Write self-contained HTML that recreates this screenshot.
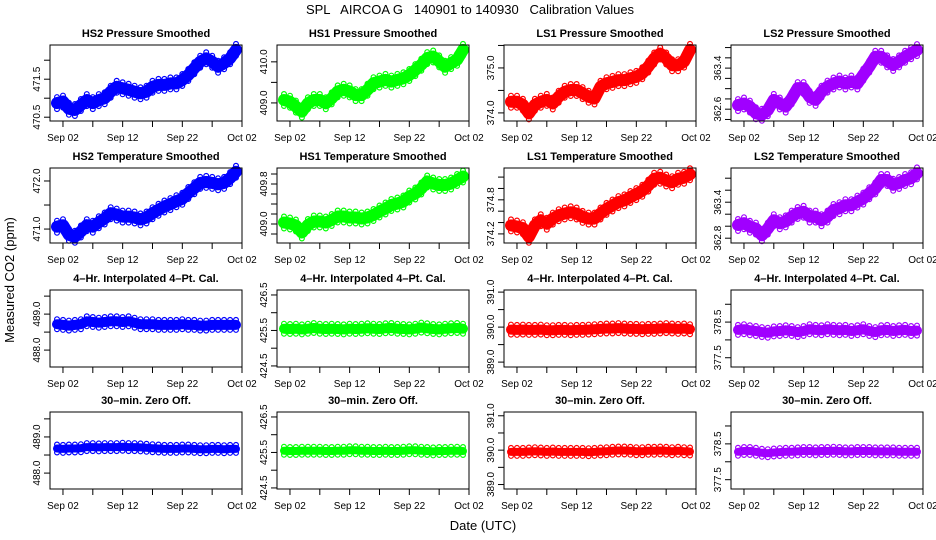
<!DOCTYPE html>
<html><head><meta charset="utf-8">
<style>
html,body{margin:0;padding:0;background:#fff;}
svg{display:block;font-family:"Liberation Sans",Arial,sans-serif;}
</style></head>
<body>
<svg id="chart" width="936" height="540" viewBox="0 0 936 540" xmlns="http://www.w3.org/2000/svg">
<text x="470" y="14" text-anchor="middle" font-size="13" xml:space="preserve">SPL   AIRCOA G   140901 to 140930   Calibration Values</text>
<text x="483" y="530" text-anchor="middle" font-size="13">Date (UTC)</text>
<text transform="translate(14,280) rotate(-90)" text-anchor="middle" font-size="13">Measured CO2 (ppm)</text>
<g id="panels"></g>
</svg>
<script>
// Days since Sep 1 (00:00 UTC) for each daily sample
const days = [0,1,2,3,4,5,6,7,8,9,10,11,12,13,14,15,16,17,18,19,20,21,22,23,24,25,26,27,28,29,30];
const xTickDays = [1,6,11,16,21,26,31];
const xTickLabels = {1:"Sep 02",11:"Sep 12",21:"Sep 22",31:"Oct 02"};

const hs2Pressure = [470.87,470.91,470.72,470.69,470.82,470.95,470.87,470.95,471.0,471.17,471.3,471.26,471.22,471.17,471.13,471.17,471.3,471.35,471.35,471.39,471.39,471.48,471.61,471.79,471.96,472.05,471.96,471.83,471.92,472.05,472.27];
const hs1Pressure = [409.07,409.03,408.91,408.79,408.99,409.07,409.07,408.99,409.11,409.28,409.32,409.28,409.19,409.19,409.32,409.48,409.52,409.56,409.52,409.56,409.6,409.68,409.8,409.93,410.09,410.13,410.01,409.88,409.97,410.05,410.29];
const ls1Pressure = [374.25,374.25,374.18,373.99,374.18,374.25,374.29,374.21,374.36,374.47,374.51,374.51,374.44,374.36,374.32,374.58,374.66,374.69,374.73,374.73,374.77,374.8,374.88,375.03,375.21,375.32,375.21,375.06,375.06,375.14,375.4];
const ls2Pressure = [362.68,362.71,362.65,362.52,362.49,362.58,362.78,362.71,362.65,362.81,363.01,363.01,362.84,362.78,362.94,363.04,363.1,363.14,363.1,363.14,363.1,363.27,363.43,363.62,363.62,363.53,363.46,363.53,363.62,363.69,363.75];

const hs2Temp = [471.05,471.08,470.88,470.84,470.95,471.08,471.05,471.14,471.22,471.33,471.3,471.26,471.26,471.24,471.2,471.24,471.33,471.4,471.47,471.52,471.58,471.63,471.75,471.85,471.96,471.98,471.96,471.93,471.96,472.06,472.19];
const hs1Temp = [409.03,409.01,408.97,408.83,408.98,409.05,409.05,409.03,409.08,409.15,409.15,409.13,409.13,409.11,409.13,409.18,409.25,409.31,409.38,409.41,409.45,409.55,409.61,409.71,409.85,409.81,409.78,409.78,409.81,409.88,409.95];
const ls1Temp = [374.35,374.33,374.3,374.15,374.35,374.44,374.38,374.47,374.53,374.56,374.58,374.56,374.5,374.47,374.47,374.56,374.64,374.7,374.76,374.79,374.85,374.9,374.96,375.05,375.17,375.19,375.14,375.11,375.17,375.19,375.25];
const ls2Temp = [363.02,363.05,362.99,362.96,362.85,362.96,363.1,363.05,363.08,363.16,363.22,363.24,363.16,363.16,363.1,363.16,363.27,363.3,363.35,363.35,363.41,363.46,363.55,363.63,363.77,363.77,363.69,363.72,363.77,363.8,363.88];

const hs2Interp = [488.72,488.7,488.68,488.7,488.72,488.8,488.78,488.76,488.78,488.8,488.8,488.78,488.8,488.76,488.72,488.72,488.72,488.7,488.7,488.7,488.7,488.72,488.7,488.7,488.68,488.68,488.7,488.7,488.7,488.7,488.7];
const hs1Interp = [425.55,425.54,425.55,425.53,425.55,425.57,425.55,425.54,425.55,425.54,425.53,425.55,425.54,425.55,425.56,425.55,425.54,425.56,425.57,425.55,425.54,425.53,425.55,425.58,425.56,425.54,425.53,425.55,425.56,425.57,425.55];
const ls1Interp = [389.93,389.92,389.93,389.92,389.92,389.93,389.91,389.91,389.92,389.92,389.91,389.92,389.92,389.93,389.94,389.95,389.96,389.96,389.97,389.96,389.95,389.95,389.94,389.95,389.95,389.96,389.97,389.96,389.95,389.96,389.94];
const ls2Interp = [378.28,378.3,378.27,378.25,378.22,378.2,378.24,378.25,378.27,378.25,378.22,378.25,378.3,378.28,378.27,378.3,378.28,378.27,378.28,378.25,378.27,378.3,378.25,378.22,378.27,378.28,378.25,378.27,378.28,378.25,378.26];

const hs2Zero = [488.68,488.67,488.68,488.68,488.69,488.72,488.72,488.71,488.72,488.72,488.72,488.73,488.72,488.72,488.71,488.7,488.69,488.68,488.67,488.67,488.67,488.68,488.68,488.67,488.66,488.66,488.67,488.67,488.66,488.67,488.67];
const hs1Zero = [425.55,425.54,425.54,425.55,425.55,425.55,425.55,425.54,425.54,425.55,425.55,425.56,425.56,425.55,425.55,425.54,425.54,425.55,425.54,425.54,425.55,425.56,425.56,425.55,425.54,425.53,425.54,425.54,425.55,425.55,425.54];
const ls1Zero = [389.95,389.95,389.95,389.96,389.97,389.96,389.95,389.96,389.95,389.95,389.95,389.95,389.95,389.94,389.95,389.96,389.97,389.98,389.99,389.99,389.98,389.97,389.97,389.98,389.98,389.99,389.98,389.97,389.98,389.97,389.96];
const ls2Zero = [378.28,378.3,378.3,378.28,378.25,378.24,378.26,378.27,378.28,378.28,378.29,378.3,378.3,378.29,378.3,378.3,378.31,378.3,378.29,378.29,378.3,378.3,378.3,378.29,378.29,378.29,378.29,378.28,378.28,378.28,378.28];

const colLeft = [50,277,504,731];
const rowTop = [45,168,290,412];
const rowBot = [121,243,367,489];
const boxW = 192;
const colors = ["#0000ff","#00ff00","#ff0000","#a000ff"];

const panels = [
 {r:0,c:0,t:"HS2 Pressure Smoothed",data:hs2Pressure,y0:470.4,y1:472.4,ticks:[470.5,471.0,471.5,472.0],labs:["470.5","471.5"],band:12},
 {r:0,c:1,t:"HS1 Pressure Smoothed",data:hs1Pressure,y0:408.56,y1:410.41,ticks:[409.0,409.5,410.0],labs:["409.0","410.0"],band:12},
 {r:0,c:2,t:"LS1 Pressure Smoothed",data:ls1Pressure,y0:373.82,y1:375.51,ticks:[374.0,374.5,375.0,375.5],labs:["374.0","375.0"],band:12},
 {r:0,c:3,t:"LS2 Pressure Smoothed",data:ls2Pressure,y0:362.37,y1:363.85,ticks:[362.4,362.6,362.8,363.0,363.2,363.4,363.6,363.8],labs:["362.6","363.4"],band:12},
 {r:1,c:0,t:"HS2 Temperature Smoothed",data:hs2Temp,y0:470.71,y1:472.27,ticks:[471.0,471.5,472.0],labs:["471.0","472.0"],band:12},
 {r:1,c:1,t:"HS1 Temperature Smoothed",data:hs1Temp,y0:408.62,y1:410.12,ticks:[408.8,409.0,409.2,409.4,409.6,409.8,410.0],labs:["409.0","409.8"],band:12},
 {r:1,c:2,t:"LS1 Temperature Smoothed",data:ls1Temp,y0:374.04,y1:375.36,ticks:[374.2,374.4,374.6,374.8,375.0,375.2],labs:["374.2","374.8"],band:12},
 {r:1,c:3,t:"LS2 Temperature Smoothed",data:ls2Temp,y0:362.72,y1:363.97,ticks:[362.8,363.0,363.2,363.4,363.6,363.8],labs:["362.8","363.4"],band:12},
 {r:2,c:0,t:"4\u2013Hr. Interpolated 4\u2013Pt. Cal.",data:hs2Interp,y0:487.53,y1:489.67,ticks:[488.0,488.5,489.0,489.5],labs:["488.0","489.0"],band:10},
 {r:2,c:1,t:"4\u2013Hr. Interpolated 4\u2013Pt. Cal.",data:hs1Interp,y0:424.47,y1:426.64,ticks:[424.5,425.0,425.5,426.0,426.5],labs:["424.5","425.5","426.5"],band:10},
 {r:2,c:2,t:"4\u2013Hr. Interpolated 4\u2013Pt. Cal.",data:ls1Interp,y0:388.86,y1:391.06,ticks:[389.0,389.5,390.0,390.5,391.0],labs:["389.0","390.0","391.0"],band:10},
 {r:2,c:3,t:"4\u2013Hr. Interpolated 4\u2013Pt. Cal.",data:ls2Interp,y0:377.24,y1:379.4,ticks:[377.5,378.0,378.5,379.0],labs:["377.5","378.5"],band:10},
 {r:3,c:0,t:"30\u2013min. Zero Off.",data:hs2Zero,y0:487.56,y1:489.69,ticks:[488.0,488.5,489.0,489.5],labs:["488.0","489.0"],band:8},
 {r:3,c:1,t:"30\u2013min. Zero Off.",data:hs1Zero,y0:424.47,y1:426.64,ticks:[424.5,425.0,425.5,426.0,426.5],labs:["424.5","425.5","426.5"],band:8},
 {r:3,c:2,t:"30\u2013min. Zero Off.",data:ls1Zero,y0:388.87,y1:391.11,ticks:[389.0,389.5,390.0,390.5,391.0],labs:["389.0","390.0","391.0"],band:8},
 {r:3,c:3,t:"30\u2013min. Zero Off.",data:ls2Zero,y0:377.24,y1:379.39,ticks:[377.5,378.0,378.5,379.0],labs:["377.5","378.5"],band:8}
];

const NS="http://www.w3.org/2000/svg";
const root=document.getElementById('panels');
function mk(tag,attrs,parent){const e=document.createElementNS(NS,tag);for(const k in attrs)e.setAttribute(k,attrs[k]);(parent||root).appendChild(e);return e;}

panels.forEach((p,i)=>{
  const L=colLeft[p.c], T=rowTop[p.r], B=rowBot[p.r], R=L+boxW;
  const xs=d=>L+7+d*(boxW-7)/31;
  const ys=v=>B-(v-p.y0)/(p.y1-p.y0)*(B-T);
  const g=mk('g',{});
  
  
  const title=mk('text',{x:(L+R)/2,y:T-8,'text-anchor':'middle','font-size':'11','font-weight':'bold'},g);
  title.textContent=p.t;
  
  
  const col=colors[p.c];
  const pts=days.map((d,j)=>xs(d).toFixed(1)+','+ys(p.data[j]).toFixed(1)).join(' ');
  const line=mk('polyline',{points:pts,fill:'none',stroke:col,'stroke-width':p.band,'stroke-linejoin':'round','stroke-linecap':'round'},g);
  
  
  days.forEach((d,j)=>{
    const cx=xs(d), cy=ys(p.data[j]);
    [-p.band/2,p.band/2].forEach(o=>{
      const c=mk('circle',{cx:cx.toFixed(1),cy:(cy+o).toFixed(1),r:2.4,fill:'none',stroke:col,'stroke-width':1.2},g);
      
      
    });
  });
  const box=mk('rect',{x:L,y:T,width:boxW,height:B-T,fill:'none',stroke:'#000','stroke-width':1},g);
  
  
  xTickDays.forEach(d=>{
    const x=xs(d);
    const tk=mk('line',{x1:x,x2:x,y1:B,y2:B+6,stroke:'#000'},g);
    
    
    if(xTickLabels[d]){
      const t=mk('text',{x:x,y:B+20,'text-anchor':'middle','font-size':'10'},g);
      t.textContent=xTickLabels[d];
      
      
    }
  });
  p.ticks.forEach(v=>{
    const y=ys(v);
    const tk=mk('line',{x1:L-6,x2:L,y1:y,y2:y,stroke:'#000'},g);
    
    
    const s=v.toFixed(1);
    if(p.labs.indexOf(s)>=0){
      const t=mk('text',{transform:'translate('+(L-10)+','+y.toFixed(1)+') rotate(-90)','text-anchor':'middle','font-size':'10'},g);
      t.textContent=s;
      
      
    }
  });
});
</script>
</body></html>
